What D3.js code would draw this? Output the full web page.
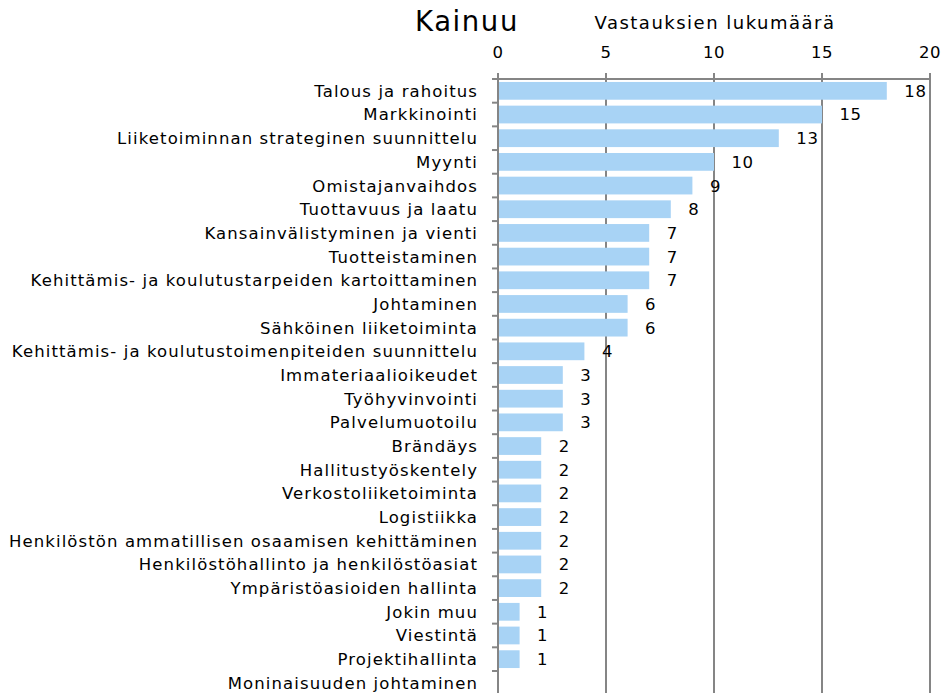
<!DOCTYPE html>
<html>
<head>
<meta charset="utf-8">
<script src="https://cdn.jsdelivr.net/npm/d3@7"></script>
<style>
  body { margin: 0; background: #fff; }
  text { font-family: "DejaVu Sans", Verdana, sans-serif; fill: #000; }
</style>
</head>
<body>
<svg id="chart" width="945" height="693"></svg>
<script>
// Topics and the number of answers for each (Kainuu region)
const categories = [
  "Talous ja rahoitus",
  "Markkinointi",
  "Liiketoiminnan strateginen suunnittelu",
  "Myynti",
  "Omistajanvaihdos",
  "Tuottavuus ja laatu",
  "Kansainvälistyminen ja vienti",
  "Tuotteistaminen",
  "Kehittämis- ja koulutustarpeiden kartoittaminen",
  "Johtaminen",
  "Sähköinen liiketoiminta",
  "Kehittämis- ja koulutustoimenpiteiden suunnittelu",
  "Immateriaalioikeudet",
  "Työhyvinvointi",
  "Palvelumuotoilu",
  "Brändäys",
  "Hallitustyöskentely",
  "Verkostoliiketoiminta",
  "Logistiikka",
  "Henkilöstön ammatillisen osaamisen kehittäminen",
  "Henkilöstöhallinto ja henkilöstöasiat",
  "Ympäristöasioiden hallinta",
  "Jokin muu",
  "Viestintä",
  "Projektihallinta",
  "Moninaisuuden johtaminen"
];
const values = [18, 15, 13, 10, 9, 8, 7, 7, 7, 6, 6, 4, 3, 3, 3, 2, 2, 2, 2, 2, 2, 2, 1, 1, 1, 0];
const tickValues = [0, 5, 10, 15, 20];
const chartTitle = "Kainuu";
const axisTitle = "Vastauksien lukumäärä";

const svg = d3.select("#chart");
const plotLeft = 498, plotRight = 930, plotTop = 79, plotBottom = 693;
const rowStep = 23.68;

const x = d3.scaleLinear().domain([0, 20]).range([plotLeft, plotRight]);
const y = d3.scaleBand().domain(categories)
  .range([plotTop, plotTop + rowStep * categories.length])
  .paddingInner(0.25).paddingOuter(0.125);

const grey = "#858585";

// vertical gridlines with short ticks above the top axis
svg.append("g").selectAll("line").data(tickValues).join("line")
  .attr("x1", d => x(d)).attr("x2", d => x(d))
  .attr("y1", plotTop - 6).attr("y2", plotBottom)
  .attr("stroke", grey).attr("stroke-width", 2);

// top axis line
svg.append("line")
  .attr("x1", plotLeft - 1).attr("x2", plotRight + 1).attr("y1", plotTop).attr("y2", plotTop)
  .attr("stroke", grey).attr("stroke-width", 2);

// category boundary ticks on the left
const boundaries = categories.map(c => y(c) - y.step() * y.paddingInner() / 2);
svg.append("g").selectAll("line").data(boundaries).join("line")
  .attr("x1", plotLeft - 6).attr("x2", plotLeft)
  .attr("y1", d => d).attr("y2", d => d)
  .attr("stroke", grey).attr("stroke-width", 2);

// bars
svg.append("g").selectAll("rect").data(values).join("rect")
  .attr("x", x(0) + 1)
  .attr("y", (d, i) => y(categories[i]))
  .attr("width", d => Math.max(0, x(d) - x(0) - 1))
  .attr("height", y.bandwidth())
  .attr("fill", "#a8d3f5");

// value labels
svg.append("g").selectAll("text").data(values).join("text")
  .filter(d => d > 0)
  .attr("x", d => x(d) + 17.5)
  .attr("y", (d, i) => y(categories[i]) + y.bandwidth() / 2)
  .attr("dy", "0.36em")
  .attr("font-size", 16.5)
  .attr("letter-spacing", 0.6)
  .text(d => d);

// category labels
svg.append("g").selectAll("text").data(categories).join("text")
  .attr("x", plotLeft - 20)
  .attr("y", d => y(d) + y.bandwidth() / 2)
  .attr("dy", "0.36em")
  .attr("text-anchor", "end")
  .attr("font-size", 16.5)
  .attr("letter-spacing", 1.1)
  .text(d => d);

// tick labels on top
svg.append("g").selectAll("text").data(tickValues).join("text")
  .attr("x", d => x(d))
  .attr("y", 58)
  .attr("text-anchor", "middle")
  .attr("font-size", 16.5)
  .attr("letter-spacing", 0.6)
  .text(d => d);

// titles
svg.append("text").attr("x", 415).attr("y", 31)
  .attr("font-size", 27.5).attr("letter-spacing", 1.6).text(chartTitle);
svg.append("text").attr("x", 715).attr("y", 29).attr("text-anchor", "middle")
  .attr("font-size", 18).attr("letter-spacing", 1.5).text(axisTitle);
</script>
</body>
</html>
